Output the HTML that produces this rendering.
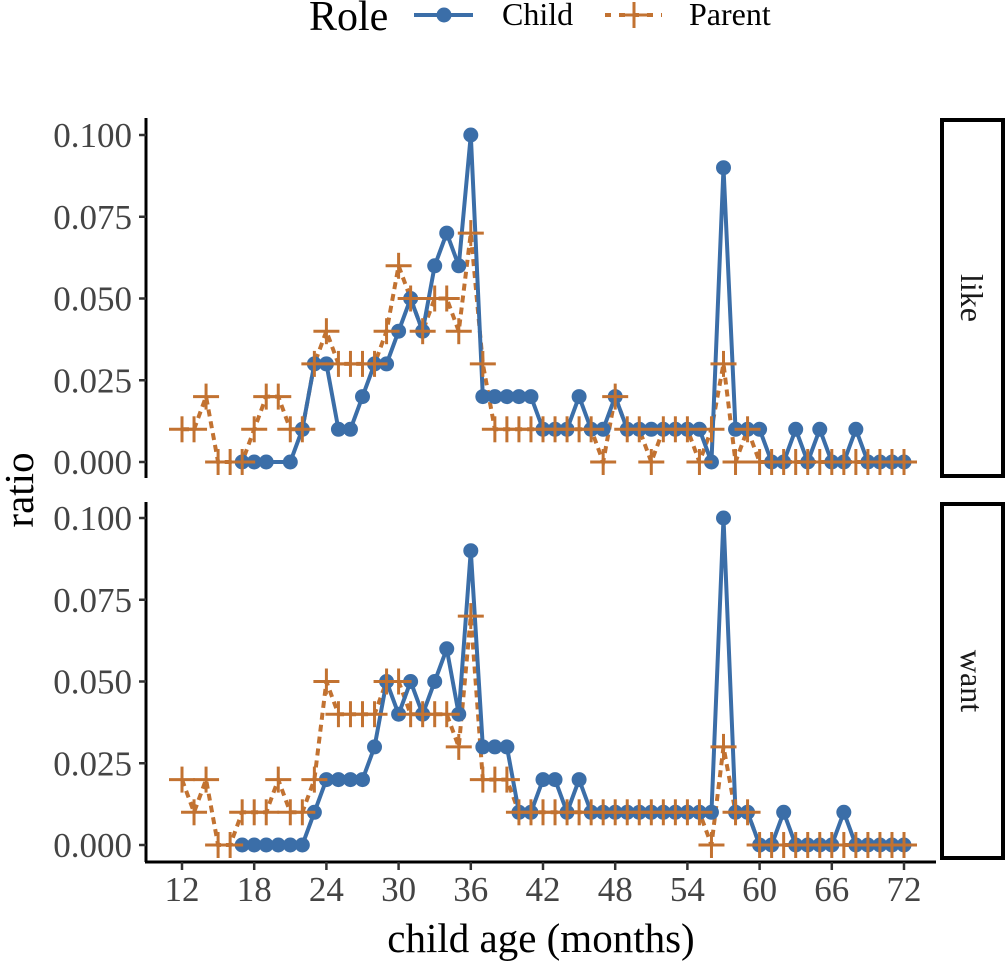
<!DOCTYPE html>
<html><head><meta charset="utf-8"><style>
body{margin:0;background:#fff;}
svg text{font-family:"Liberation Serif",serif;}
</style></head><body>
<svg id="chart" width="1007" height="962" xmlns="http://www.w3.org/2000/svg">
<g>
  <text x="309" y="30" font-size="42" fill="#000">Role</text>
  <g>
    <line x1="414" y1="15" x2="473" y2="15" stroke="#3b6ea8" stroke-width="4"/>
    <circle cx="444" cy="15" r="7.5" fill="#3b6ea8"/>
    <text x="502" y="25" font-size="32" fill="#000">Child</text>
  </g>
  <g>
    <line x1="605" y1="15" x2="662" y2="15" stroke="#c27231" stroke-width="4" stroke-dasharray="6,8"/>
    <line x1="621" y1="15" x2="647" y2="15" stroke="#c27231" stroke-width="3"/>
    <line x1="634" y1="2" x2="634" y2="28" stroke="#c27231" stroke-width="3"/>
    <text x="689" y="25" font-size="32" fill="#000">Parent</text>
  </g>
</g>
<g id="panels"></g>
<text x="541" y="952" font-size="41" text-anchor="middle" fill="#000">child age (months)</text>
<text transform="translate(33,490) rotate(-90)" font-size="41" text-anchor="middle" fill="#000">ratio</text>
</svg>
<script>
const months = [];
for (let m = 12; m <= 72; m++) months.push(m);
const likeChildMonths = [17,18,19,21,22,23,24,25,26,27,28,29,30,31,32,33,34,35,36,37,38,39,40,41,42,43,44,45,46,47,48,49,50,51,52,53,54,55,56,57,58,59,60,61,62,63,64,65,66,67,68,69,70,71,72];
const likeChild = [0,0,0,0,0.01,0.03,0.03,0.01,0.01,0.02,0.03,0.03,0.04,0.05,0.04,0.06,0.07,0.06,0.10,0.02,0.02,0.02,0.02,0.02,0.01,0.01,0.01,0.02,0.01,0.01,0.02,0.01,0.01,0.01,0.01,0.01,0.01,0.01,0,0.09,0.01,0.01,0.01,0,0,0.01,0,0.01,0,0,0.01,0,0,0,0];
const likeParent = [0.01,0.01,0.02,0,0,0,0.01,0.02,0.02,0.01,0.01,0.03,0.04,0.03,0.03,0.03,0.03,0.04,0.06,0.05,0.04,0.05,0.05,0.04,0.07,0.03,0.01,0.01,0.01,0.01,0.01,0.01,0.01,0.01,0.01,0,0.02,0.01,0.01,0,0.01,0.01,0.01,0,0.01,0.03,0,0.01,0,0,0,0,0,0,0,0,0,0,0,0,0];
const wantChildMonths = [17,18,19,20,21,22,23,24,25,26,27,28,29,30,31,32,33,34,35,36,37,38,39,40,41,42,43,44,45,46,47,48,49,50,51,52,53,54,55,56,57,58,59,60,61,62,63,64,65,66,67,68,69,70,71,72];
const wantChild = [0,0,0,0,0,0,0.01,0.02,0.02,0.02,0.02,0.03,0.05,0.04,0.05,0.04,0.05,0.06,0.04,0.09,0.03,0.03,0.03,0.01,0.01,0.02,0.02,0.01,0.02,0.01,0.01,0.01,0.01,0.01,0.01,0.01,0.01,0.01,0.01,0.01,0.10,0.01,0.01,0,0,0.01,0,0,0,0,0.01,0,0,0,0,0];
const wantParent = [0.02,0.01,0.02,0,0,0.01,0.01,0.01,0.02,0.01,0.01,0.02,0.05,0.04,0.04,0.04,0.04,0.05,0.05,0.04,0.04,0.04,0.04,0.03,0.07,0.02,0.02,0.02,0.01,0.01,0.01,0.01,0.01,0.01,0.01,0.01,0.01,0.01,0.01,0.01,0.01,0.01,0.01,0.01,0,0.03,0.01,0.01,0,0,0,0,0,0,0,0,0,0,0,0,0];
const yTicks = [0, 0.025, 0.05, 0.075, 0.1];
const yTickLabels = ["0.000","0.025","0.050","0.075","0.100"];
const xTicks = [12,18,24,30,36,42,48,54,60,66,72];

const NS = "http://www.w3.org/2000/svg";
const root = document.getElementById("panels");
const xS = m => 182 + (m - 12) * (722 / 60);
function mk(tag, attrs, parent) {
  const e = document.createElementNS(NS, tag);
  for (const k in attrs) e.setAttribute(k, attrs[k]);
  parent.appendChild(e);
  return e;
}
const panels = [
  {name:"like", top:118, bottom:478, y0:462, y1:135, cm:likeChildMonths, c:likeChild, p:likeParent},
  {name:"want", top:502, bottom:860, y0:845, y1:518, cm:wantChildMonths, c:wantChild, p:wantParent}
];
panels.forEach((pn, pi) => {
  const g = mk("g", {}, root);
  
  
  const yS = v => pn.y0 + (pn.y1 - pn.y0) * v / 0.1;
  const ax = mk("line", {x1:146, y1:pn.top, x2:146, y2:pi===1?862:pn.bottom, stroke:"#000", "stroke-width":3}, g);
  
  
  yTicks.forEach((t, i) => {
    mk("line", {x1:139, x2:146, y1:yS(t), y2:yS(t), stroke:"#333", "stroke-width":2.5}, g);
    const tx = mk("text", {x:132, y:yS(t)+12, "font-size":35, "text-anchor":"end", fill:"#444"}, g);
    tx.textContent = yTickLabels[i];
    
    
  });
  const sg = mk("g", {}, g);
  
  
  mk("rect", {x:942, y:pn.top+2, width:61, height:pn.bottom-pn.top-4, fill:"#fff", stroke:"#000", "stroke-width":4}, sg);
  const cy = (pn.top + pn.bottom) / 2;
  const st = mk("text", {transform:`translate(961,${cy}) rotate(90)`, "font-size":32, "text-anchor":"middle", fill:"#1a1a1a"}, sg);
  st.textContent = pn.name;
  const pPts = months.map((m, i) => [xS(m), yS(pn.p[i])]);
  const pl = mk("polyline", {points:pPts.map(q=>q.join(",")).join(" "), fill:"none", stroke:"#c27231", "stroke-width":4, "stroke-dasharray":"7,5"}, g);
  
  
  const cPts = pn.cm.map((m, i) => [xS(m), yS(pn.c[i])]);
  const cl = mk("polyline", {points:cPts.map(q=>q.join(",")).join(" "), fill:"none", stroke:"#3b6ea8", "stroke-width":4}, g);
  
  
  cPts.forEach(q => {
    const c = mk("circle", {cx:q[0], cy:q[1], r:7.5, fill:"#3b6ea8"}, g);
    
    
  });
  pPts.forEach(q => {
    const pg = mk("g", {stroke:"#c27231", "stroke-width":3}, g);
    
    
    mk("line", {x1:q[0]-13, x2:q[0]+13, y1:q[1], y2:q[1]}, pg);
    mk("line", {x1:q[0], x2:q[0], y1:q[1]-13, y2:q[1]+13}, pg);
  });
});
const xa = mk("line", {x1:145, x2:936, y1:862, y2:862, stroke:"#000", "stroke-width":3}, root);


xTicks.forEach(t => {
  mk("line", {x1:xS(t), x2:xS(t), y1:862, y2:870, stroke:"#333", "stroke-width":2.5}, root);
  const tx = mk("text", {x:xS(t), y:901, "font-size":35, "text-anchor":"middle", fill:"#444"}, root);
  tx.textContent = t;
  
  
});
</script>
</body></html>
